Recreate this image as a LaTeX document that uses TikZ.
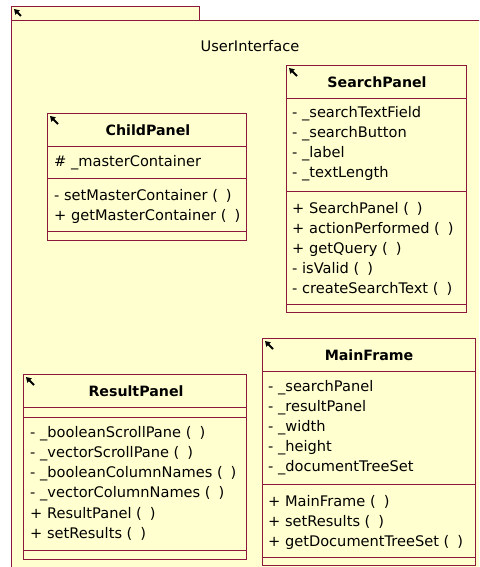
\documentclass[tikz,border=0pt]{standalone}
\usepackage{fontspec}
\setmainfont{DejaVu Sans}
\usetikzlibrary{arrows.meta}

\definecolor{umlborder}{RGB}{140,25,60}
\definecolor{umlfill}{RGB}{255,255,208}

\tikzset{
  classbox/.style={draw=umlborder, fill=umlfill, line width=0.9pt, anchor=north west, inner sep=0pt},
  sepline/.style={draw=umlborder, line width=0.9pt},
  member/.style={anchor=west, inner sep=0pt, font=\fontsize{14.6}{16}\selectfont},
  classname/.style={inner sep=0pt, font=\fontsize{14.2}{16}\selectfont\bfseries},
  pin/.style={-{Triangle[length=5pt,width=6pt]}, line width=1.8pt}
}
\newcommand\args{(\hspace{0.55em})}

\begin{document}
\begin{tikzpicture}[x=1pt,y=-1pt]
  \useasboundingbox (0,0) rectangle (479,567);
  \clip (0,0) rectangle (479,567);

  % package UserInterface
  \node[classbox, minimum width=188pt, minimum height=14pt] (pkgtab) at (11,6) {};
  \node[classbox, minimum width=480pt, minimum height=560pt] (pkg) at (11,20) {};
  \draw[pin] (21,16) -- (14,9);
  \node (pkgname) at (250,46) {\fontsize{14.6}{16}\selectfont UserInterface};

  % SearchPanel
  \node[classbox, minimum width=180pt, minimum height=247pt] (search) at (286,65) {};
  \draw[pin] (297,76) -- (289,68);
  \node[classname] (search-name) at (377,82) {SearchPanel};
  \draw[sepline] (search.west |- 0,98) -- (search.east |- 0,98);
  \draw[sepline] (search.west |- 0,191) -- (search.east |- 0,191);
  \draw[sepline] (search.west |- 0,304) -- (search.east |- 0,304);
  \foreach \txt [count=\k] in {- \_searchTextField, - \_searchButton, - \_label, - \_textLength}
    \node[member] (search-a\k) at (292,94+20*\k) {\txt};
  \foreach \txt [count=\k] in {+ SearchPanel \args, + actionPerformed \args, + getQuery \args,
      - isValid \args, - createSearchText \args}
    \node[member] (search-m\k) at (292,189+20*\k) {\txt};

  % ChildPanel
  \node[classbox, minimum width=199pt, minimum height=127pt] (child) at (47,113) {};
  \draw[pin] (58,124) -- (50,116);
  \node[classname] (child-name) at (148,130) {ChildPanel};
  \draw[sepline] (child.west |- 0,146) -- (child.east |- 0,146);
  \draw[sepline] (child.west |- 0,178) -- (child.east |- 0,178);
  \draw[sepline] (child.west |- 0,231) -- (child.east |- 0,231);
  \node[member] (child-a1) at (54,163) {\# \_masterContainer};
  \foreach \txt [count=\k] in {- setMasterContainer \args, + getMasterContainer \args}
    \node[member] (child-m\k) at (54,176+20*\k) {\txt};

  % ResultPanel
  \node[classbox, minimum width=223pt, minimum height=185pt] (result) at (23,374) {};
  \draw[pin] (34,385) -- (26,377);
  \node[classname] (result-name) at (136,391) {ResultPanel};
  \draw[sepline] (result.west |- 0,407) -- (result.east |- 0,407);
  \draw[sepline] (result.west |- 0,417) -- (result.east |- 0,417);
  \draw[sepline] (result.west |- 0,550) -- (result.east |- 0,550);
  \foreach \txt [count=\k] in {- \_booleanScrollPane \args, - \_vectorScrollPane \args,
      - \_booleanColumnNames \args, - \_vectorColumnNames \args,
      + ResultPanel \args, + setResults \args}
    \node[member] (result-m\k) at (30,414+20*\k) {\txt};

  % MainFrame
  \node[classbox, minimum width=213pt, minimum height=227pt] (main) at (262,338) {};
  \draw[pin] (273,349) -- (265,341);
  \node[classname] (main-name) at (369,355) {MainFrame};
  \draw[sepline] (main.west |- 0,371) -- (main.east |- 0,371);
  \draw[sepline] (main.west |- 0,484) -- (main.east |- 0,484);
  \draw[sepline] (main.west |- 0,557) -- (main.east |- 0,557);
  \foreach \txt [count=\k] in {- \_searchPanel, - \_resultPanel, - \_width, - \_height,
      - \_documentTreeSet}
    \node[member] (main-a\k) at (268,368+20*\k) {\txt};
  \foreach \txt [count=\k] in {+ MainFrame \args, + setResults \args, + getDocumentTreeSet \args}
    \node[member] (main-m\k) at (268,482+20*\k) {\txt};
\end{tikzpicture}
\end{document}
